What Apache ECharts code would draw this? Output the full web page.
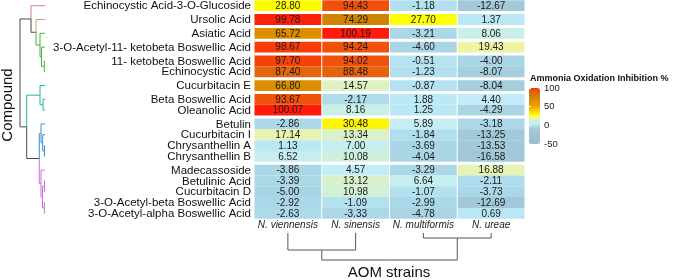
<!DOCTYPE html>
<html>
<head>
<meta charset="UTF-8">
<title>Ammonia Oxidation Inhibition %</title>
<script src="https://cdn.jsdelivr.net/npm/echarts@6/dist/echarts.min.js"></script>
<style>html,body{margin:0;padding:0;background:#fff;}</style>
</head>
<body>
<div id="main" style="width:677px;height:280px;"></div>
<script type="text/javascript">
// rows of the clustered heatmap, top to bottom
var compounds = [
    'Echinocystic Acid-3-O-Glucoside', 'Ursolic Acid', 'Asiatic Acid',
    '3-O-Acetyl-11- ketobeta Boswellic Acid', '11- ketobeta Boswellic Acid', 'Echinocystic Acid',
    'Cucurbitacin E', 'Beta Boswellic Acid', 'Oleanolic Acid',
    'Betulin', 'Cucurbitacin I', 'Chrysanthellin A', 'Chrysanthellin B',
    'Madecassoside', 'Betulinic Acid', 'Cucurbitacin D',
    '3-O-Acetyl-beta Boswellic Acid', '3-O-Acetyl-alpha Boswellic Acid'
];
var strains = ['N. viennensis', 'N. sinensis', 'N. multiformis', 'N. ureae'];

// inhibition %, one array per strain (same row order as compounds)
var viennensis = [28.80, 99.78, 65.72, 98.67, 97.70, 87.40, 66.80, 93.67, 100.07, -2.86, 17.14, 1.13, 6.52, -3.86, -3.39, -5.00, -2.92, -2.63];
var sinensis = [94.43, 74.29, 100.19, 94.24, 94.02, 88.48, 14.57, -2.17, 8.16, 30.48, 13.34, 7.00, 10.08, 4.57, 13.12, 10.98, -1.09, -3.33];
var multiformis = [-1.18, 27.70, -3.21, -4.60, -0.51, -1.23, -0.87, 1.88, 1.25, 5.89, -1.84, -3.69, -4.04, -3.29, 6.64, -1.07, -2.99, -4.78];
var ureae = [-12.67, 1.37, 8.06, 19.43, -4.00, -8.07, -8.04, 4.40, -4.29, -3.18, -13.25, -13.53, -16.58, 16.88, -2.11, -3.73, -12.69, 0.69];

// row slices (white gaps) and dendrogram branch groups
var rowSlice = [0, 1, 2, 3, 4, 4, 5, 6, 6, 7, 7, 7, 7, 8, 8, 8, 8, 8];
var rowCluster = [0, 1, 2, 2, 2, 2, 3, 3, 3, 4, 4, 4, 4, 5, 5, 5, 5, 5];

// hclust style merges: negative = leaf (1-based), positive = earlier merge
var rowMerge = [
    [-5, -6, 0.7], [-12, -13, 0.5], [-15, -16, 0.5], [-17, -18, 0.6],
    [-8, -9, 2.0], [-11, 2, 2.3], [3, 4, 2.5], [-4, 1, 3.5],
    [-10, 6, 4.0], [-14, 7, 4.0], [-3, 8, 5.0], [-7, 5, 5.0],
    [9, 10, 5.7], [-2, 11, 9.0], [-1, 14, 14.0], [12, 13, 18.3], [15, 16, 25.0]
];
var colMerge = [[-1, -2, 17], [-3, -4, 5], [1, 2, 27]];

// ---- styles ----
var FONT = '"Liberation Sans", Arial, Helvetica, sans-serif';
var clusterColors = ['#e07795', '#c9a35f', '#4cb340', '#25b39e', '#3b8fd6', '#cf6fdc'];
var colorStops = [[-50, '#9cbcc8'], [-10, '#a3cada'], [-3, '#abd8e8'], [0, '#b8e6f4'], [5, '#c3eef9'],
    [10, '#cdefdc'], [15, '#dff2c0'], [20, '#eff59e'], [28, '#ffff00'], [50, '#f2a300'],
    [75, '#cf8400'], [87, '#e2660f'], [94, '#f0520c'], [99, '#f83a06'], [100, '#ff1a0a']];

function hex(c) { return [1, 3, 5].map(function (i) { return parseInt(c.substr(i, 2), 16); }); }
function buildPalette() {
    var out = [];
    for (var v = -50; v <= 100; v++) {
        var k = 0;
        while (k < colorStops.length - 2 && v > colorStops[k + 1][0]) k++;
        var a = colorStops[k], b = colorStops[k + 1];
        var t = (v - a[0]) / (b[0] - a[0]);
        var ca = hex(a[1]), cb = hex(b[1]);
        out.push('rgb(' + ca.map(function (x, i) { return Math.round(x + (cb[i] - x) * t); }).join(',') + ')');
    }
    return out;
}

var GAP = 0.28;
var rowPos = compounds.map(function (c, i) { return i + rowSlice[i] * GAP; });
var yMax = compounds.length - 0.5 + GAP * rowSlice[rowSlice.length - 1];

var values = [viennensis, sinensis, multiformis, ureae];
var cells = [];
values.forEach(function (arr, s) {
    arr.forEach(function (v, i) { cells.push([s, rowPos[i], v]); });
});

// turn merges into line segments [h1, p1, h2, p2]
function dendroSegments(merge, leafPos, leafColor, mixColor) {
    var nodes = [], segs = [];
    function child(ref) {
        return ref < 0 ? { pos: leafPos[-ref - 1], h: 0, color: leafColor(-ref - 1) } : nodes[ref - 1];
    }
    merge.forEach(function (m) {
        var a = child(m[0]), b = child(m[1]), h = m[2];
        var pos = (a.pos + b.pos) / 2;
        [a, b].forEach(function (c) {
            var col = c.color || mixColor;
            segs.push({ value: [h, pos, h, c.pos], color: col });
            segs.push({ value: [h, c.pos, c.h, c.pos], color: col });
        });
        nodes.push({ pos: pos, h: h, color: a.color && a.color === b.color ? a.color : null });
    });
    return segs;
}
var rowSegs = dendroSegments(rowMerge, rowPos, function (i) { return clusterColors[rowCluster[i]]; }, '#4a4a4a');
var colSegs = dendroSegments(colMerge, [0, 1, 2, 3], function () { return '#555'; }, '#555');

function segRender(segs, swap) {
    return function (params, api) {
        var v = segs[params.dataIndex].value;
        var p1 = swap ? api.coord([v[1], v[0]]) : api.coord([v[0], v[1]]);
        var p2 = swap ? api.coord([v[3], v[2]]) : api.coord([v[2], v[3]]);
        return {
            type: 'line',
            shape: { x1: p1[0], y1: p1[1], x2: p2[0], y2: p2[1] },
            style: { stroke: segs[params.dataIndex].color, lineWidth: 1 }
        };
    };
}

var chart = echarts.init(document.getElementById('main'), null, { renderer: 'canvas' });
var HM_TOP = 0.3, HM_H = 218.4;

var option = {
    animation: false,
    textStyle: { fontFamily: FONT },
    grid: [
        { left: 254, top: HM_TOP, width: 271, height: HM_H },
        { left: 20, top: HM_TOP, width: 25, height: HM_H },
        { left: 254, top: 233, width: 271, height: 27 },
        { left: 529, top: 88, width: 11, height: 56 }
    ],
    xAxis: [
        {
            gridIndex: 0, type: 'category', data: strains, position: 'bottom',
            axisLine: { show: false }, axisTick: { show: false },
            axisLabel: { interval: 0, fontSize: 10, fontStyle: 'italic', color: '#222', margin: 2, fontFamily: FONT }
        },
        { gridIndex: 1, type: 'value', min: 0, max: 25, inverse: true, show: false },
        { gridIndex: 2, type: 'value', min: -0.5, max: 3.5, show: false },
        { gridIndex: 3, type: 'value', min: 0, max: 1, show: false }
    ],
    yAxis: [
        { gridIndex: 0, type: 'value', min: -0.5, max: yMax, inverse: true, show: false },
        { gridIndex: 1, type: 'value', min: -0.5, max: yMax, inverse: true, show: false },
        { gridIndex: 2, type: 'value', min: 0, max: 27, inverse: true, show: false },
        {
            gridIndex: 3, type: 'value', min: -50, max: 100, interval: 50, position: 'right', z: 10,
            axisLine: { show: false }, splitLine: { show: false },
            axisTick: { show: true, inside: true, length: 2, lineStyle: { color: '#fff' } },
            axisLabel: { fontSize: 9.5, color: '#222', margin: 4, fontFamily: FONT }
        },
        {
            gridIndex: 3, type: 'value', min: -50, max: 100, interval: 50, position: 'left', z: 10,
            axisLine: { show: false }, splitLine: { show: false },
            axisTick: { show: true, inside: true, length: 2, lineStyle: { color: '#fff' } },
            axisLabel: { show: false }
        }
    ],
    visualMap: {
        type: 'continuous', min: -50, max: 100, seriesIndex: 0, dimension: 2,
        orient: 'vertical', left: 529, top: 88, itemWidth: 11, itemHeight: 56,
        padding: 0, calculable: false, hoverLink: false,
        inRange: { color: buildPalette() }
    },
    graphic: [
        {
            type: 'text', x: 8, y: 105, rotation: Math.PI / 2,
            style: { text: 'Compound', fontSize: 15, fontFamily: FONT, fill: '#111', align: 'center', verticalAlign: 'middle' }
        },
        {
            type: 'text', x: 389, y: 273,
            style: { text: 'AOM strains', fontSize: 15, fontFamily: FONT, fill: '#111', align: 'center', verticalAlign: 'middle' }
        },
        {
            type: 'text', x: 530, y: 79,
            style: { text: 'Ammonia Oxidation Inhibition %', fontSize: 9, fontWeight: 'bold', fontFamily: FONT, fill: '#111', verticalAlign: 'middle' }
        }
    ],
    series: [
        {
            type: 'custom', xAxisIndex: 0, yAxisIndex: 0, data: cells, clip: false,
            renderItem: function (params, api) {
                var c = api.coord([api.value(0), api.value(1)]);
                var s = api.size([1, 1]);
                var w = Math.abs(s[0]) - 1, h = Math.abs(s[1]);
                return {
                    type: 'group',
                    children: [
                        { type: 'rect', shape: { x: c[0] - w / 2, y: c[1] - h / 2, width: w, height: h }, style: { fill: api.visual('color') } },
                        { type: 'text', x: c[0], y: c[1] + 0.5, style: { text: api.value(2).toFixed(2), fontSize: 10, fontFamily: FONT, fill: '#1a1a1a', align: 'center', verticalAlign: 'middle' } }
                    ]
                };
            }
        },
        {
            type: 'custom', xAxisIndex: 0, yAxisIndex: 0, clip: false,
            data: compounds.map(function (c, i) { return [0, rowPos[i], i]; }),
            renderItem: function (params, api) {
                var c = api.coord([0, api.value(1)]);
                var s = api.size([1, 1]);
                return {
                    type: 'text', x: c[0] - Math.abs(s[0]) / 2 - 3, y: c[1] + 0.5,
                    style: { text: compounds[api.value(2)], fontSize: 11.5, fontFamily: FONT, fill: '#111', align: 'right', verticalAlign: 'middle' }
                };
            }
        },
        {
            type: 'custom', xAxisIndex: 1, yAxisIndex: 1, clip: false,
            data: rowSegs.map(function (s) { return s.value; }),
            renderItem: segRender(rowSegs, false)
        },
        {
            type: 'custom', xAxisIndex: 2, yAxisIndex: 2, clip: false,
            data: colSegs.map(function (s) { return s.value; }),
            renderItem: segRender(colSegs, true)
        },
        {
            type: 'custom', xAxisIndex: 3, yAxisIndex: 3, data: [],
            renderItem: function () { return null; }
        }
    ]
};

chart.setOption(option);
</script>
</body>
</html>
